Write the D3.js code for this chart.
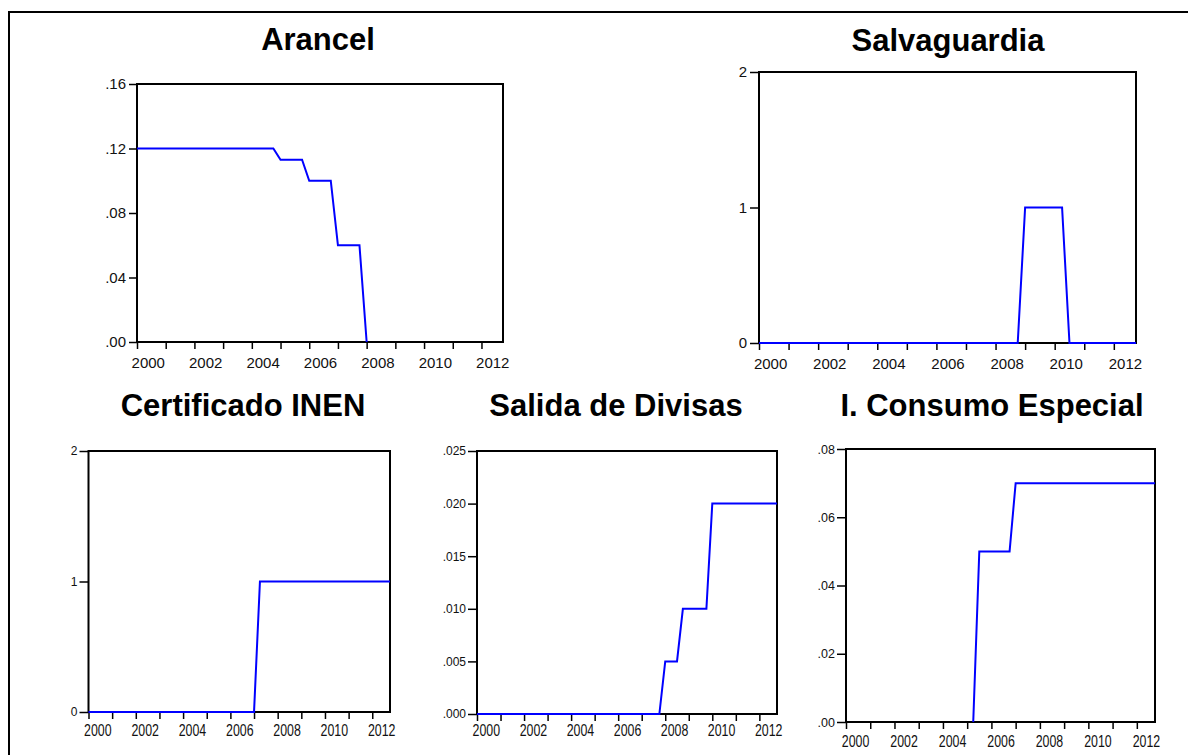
<!DOCTYPE html>
<html><head><meta charset="utf-8">
<script src="https://cdn.jsdelivr.net/npm/d3@7"></script>
<style>body{margin:0;background:#fff} svg{display:block}</style>
</head><body>
<svg id="c" width="1188" height="755"></svg>
<script>
// ---- DATA (quarterly, 2000Q1 .. 2012Q4) ----
const quarters = [
 "2000Q1","2000Q2","2000Q3","2000Q4","2001Q1","2001Q2","2001Q3","2001Q4",
 "2002Q1","2002Q2","2002Q3","2002Q4","2003Q1","2003Q2","2003Q3","2003Q4",
 "2004Q1","2004Q2","2004Q3","2004Q4","2005Q1","2005Q2","2005Q3","2005Q4",
 "2006Q1","2006Q2","2006Q3","2006Q4","2007Q1","2007Q2","2007Q3","2007Q4",
 "2008Q1","2008Q2","2008Q3","2008Q4","2009Q1","2009Q2","2009Q3","2009Q4",
 "2010Q1","2010Q2","2010Q3","2010Q4","2011Q1","2011Q2","2011Q3","2011Q4",
 "2012Q1","2012Q2","2012Q3","2012Q4"];

const arancel = [
 0.12,0.12,0.12,0.12, 0.12,0.12,0.12,0.12, 0.12,0.12,0.12,0.12, 0.12,0.12,0.12,0.12,
 0.12,0.12,0.12,0.12, 0.113,0.113,0.113,0.113, 0.10,0.10,0.10,0.10, 0.06,0.06,0.06,0.06,
 0.00,null,null,null, null,null,null,null, null,null,null,null, null,null,null,null,
 null,null,null,null];

const salvaguardia = [
 0,0,0,0, 0,0,0,0, 0,0,0,0, 0,0,0,0, 0,0,0,0, 0,0,0,0, 0,0,0,0, 0,0,0,0,
 0,0,0,0, 1,1,1,1, 1,1,0,0, 0,0,0,0, 0,0,0,0];

const certificado = [
 0,0,0,0, 0,0,0,0, 0,0,0,0, 0,0,0,0, 0,0,0,0, 0,0,0,0, 0,0,0,0, 0,1,1,1,
 1,1,1,1, 1,1,1,1, 1,1,1,1, 1,1,1,1, 1,1,1,1];

const salida = [
 0,0,0,0, 0,0,0,0, 0,0,0,0, 0,0,0,0, 0,0,0,0, 0,0,0,0, 0,0,0,0, 0,0,0,0,
 0.005,0.005,0.005,0.010, 0.010,0.010,0.010,0.010, 0.020,0.020,0.020,0.020,
 0.020,0.020,0.020,0.020, 0.020,0.020,0.020,0.020];

const consumo = [
 null,null,null,null, null,null,null,null, null,null,null,null, null,null,null,null,
 null,null,null,null, null,0.00,0.05,0.05, 0.05,0.05,0.05,0.05, 0.07,0.07,0.07,0.07,
 0.07,0.07,0.07,0.07, 0.07,0.07,0.07,0.07, 0.07,0.07,0.07,0.07, 0.07,0.07,0.07,0.07,
 0.07,0.07,0.07,0.07];

const titles = ["Arancel","Salvaguardia","Certificado INEN","Salida de Divisas","I. Consumo Especial"];
const yearTicks = [2000,2001,2002,2003,2004,2005,2006,2007,2008,2009,2010,2011,2012];
const yearLabels = [2000,2002,2004,2006,2008,2010,2012];
const arancelTicks = [0,0.04,0.08,0.12,0.16];
const salvaguardiaTicks = [0,1,2];
const certificadoTicks = [0,1,2];
const salidaTicks = [0,0.005,0.010,0.015,0.020,0.025];
const consumoTicks = [0,0.02,0.04,0.06,0.08];

// ---- helpers ----
const qToYear = q => +q.slice(0,4) + (+q.slice(5) - 1) / 4;
const dotFmt = p => v => d3.format("." + p + "f")(v).replace(/^0\./, ".");

const panels = [
 {title:titles[0], values:arancel, ticks:arancelTicks, fmt:dotFmt(2), box:{l:137,t:84,r:503,b:342},
  tx:318, ty:50, xFont:15, yFont:15, xPad:8, yTick:8, yPad:3, cond:false},
 {title:titles[1], values:salvaguardia, ticks:salvaguardiaTicks, fmt:d3.format("d"), box:{l:759,t:72,r:1136,b:343},
  tx:948, ty:50.5, xFont:15, yFont:15, xPad:8, yTick:9, yPad:3, cond:false},
 {title:titles[2], values:certificado, ticks:certificadoTicks, fmt:d3.format("d"), box:{l:88.5,t:451,r:390,b:712},
  tx:243, ty:416, xFont:16, yFont:12, xPad:6, yTick:9, yPad:2, cond:true},
 {title:titles[3], values:salida, ticks:salidaTicks, fmt:dotFmt(3), box:{l:477,t:451,r:777,b:714},
  tx:616, ty:416, xFont:16, yFont:12, xPad:4, yTick:9, yPad:2, cond:true},
 {title:titles[4], values:consumo, ticks:consumoTicks, fmt:dotFmt(2), box:{l:846,t:449,r:1155,b:722},
  tx:992, ty:416, xFont:16, yFont:12.5, xPad:7, yTick:9, yPad:2, cond:true}
];

const svg = d3.select("#c");
const FONT = "'Liberation Sans', Arial, Helvetica, sans-serif";

// outer frame
svg.append("rect").attr("x",9).attr("y",12).attr("width",1200).attr("height",800)
  .attr("fill","none").attr("stroke","#000").attr("stroke-width",2);

panels.forEach(p => {
  const b = p.box;
  const x = d3.scaleLinear().domain([2000, 2012.75]).range([b.l, b.r]);
  const y = d3.scaleLinear().domain([p.ticks[0], p.ticks[p.ticks.length-1]]).range([b.b, b.t]);
  const g = svg.append("g");

  // title
  g.append("text").attr("x",p.tx).attr("y",p.ty).attr("text-anchor","middle")
    .attr("font-family",FONT).attr("font-weight","bold").attr("font-size",31)
    .attr("fill","#000").text(p.title);

  // plot frame (drawn first so the series sits on top of it)
  g.append("rect").attr("x",b.l).attr("y",b.t).attr("width",b.r-b.l).attr("height",b.b-b.t)
    .attr("fill","none").attr("stroke","#000").attr("stroke-width",2);

  // x tick marks (every year)
  const xt = g.append("g").attr("transform",`translate(0,${b.b})`)
    .call(d3.axisBottom(x).tickValues(yearTicks).tickSize(7).tickSizeOuter(0).tickFormat(""));
  xt.select(".domain").remove();
  xt.selectAll("line").attr("stroke","#000").attr("stroke-width",1.5);

  // x labels centred on each year's observations
  const xl = g.append("g").attr("transform",`translate(0,${b.b})`)
    .call(d3.axisBottom(x).tickValues(yearLabels.map(v => v + 0.375)).tickSize(0)
      .tickPadding(7 + p.xPad).tickFormat(d => Math.floor(d)));
  xl.select(".domain").remove();
  xl.selectAll("text").attr("font-family",FONT).attr("font-size",p.xFont).attr("fill","#111");
  if (p.cond) xl.selectAll("text").attr("textLength",27.5).attr("lengthAdjust","spacingAndGlyphs");

  // y axis
  const ya = g.append("g").attr("transform",`translate(${b.l},0)`)
    .call(d3.axisLeft(y).tickValues(p.ticks).tickSize(p.yTick).tickSizeOuter(0)
      .tickPadding(p.yPad).tickFormat(p.fmt));
  ya.select(".domain").remove();
  ya.selectAll("line").attr("stroke","#000").attr("stroke-width",1.5);
  ya.selectAll("text").attr("font-family",FONT).attr("font-size",p.yFont).attr("fill","#111");

  // series line
  const pts = quarters.map((q,i) => ({t:qToYear(q), v:p.values[i]}));
  const line = d3.line().defined(d => d.v != null).x(d => x(d.t)).y(d => y(d.v));
  g.append("path").datum(pts).attr("d",line).attr("fill","none")
    .attr("stroke","#0000ff").attr("stroke-width",2).attr("stroke-linejoin","miter");
});
</script>
</body></html>
